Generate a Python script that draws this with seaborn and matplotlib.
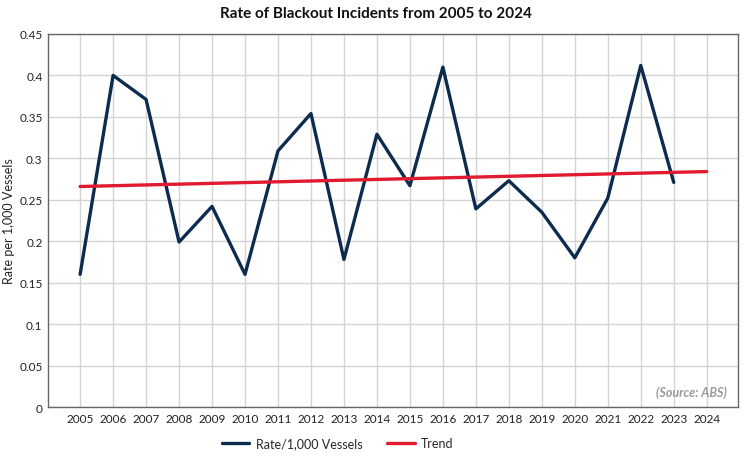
import matplotlib
matplotlib.use("Agg")
import matplotlib.pyplot as plt
import seaborn as sns
import pandas as pd

# values
years = [2005, 2006, 2007, 2008, 2009, 2010, 2011, 2012, 2013, 2014,
         2015, 2016, 2017, 2018, 2019, 2020, 2021, 2022, 2023]
rates = [0.160, 0.400, 0.371, 0.199, 0.242, 0.160, 0.309, 0.354, 0.178, 0.329,
         0.267, 0.410, 0.239, 0.273, 0.235, 0.180, 0.252, 0.412, 0.271]
trend_years = [2005, 2024]
trend_values = [0.266, 0.284]
year_ticks = list(range(2005, 2025))
y_ticks = [0, 0.05, 0.1, 0.15, 0.2, 0.25, 0.3, 0.35, 0.4, 0.45]
y_tick_labels = ["0", "0.05", "0.1", "0.15", "0.2", "0.25", "0.3", "0.35", "0.4", "0.45"]

NAVY = "#0d2a4f"
RED = "#e01b30"

sns.set_theme(style="whitegrid")
plt.rcParams['font.family'] = ['Lato', 'DejaVu Sans']

df = pd.DataFrame({'year': years, 'rate': rates})
trend = pd.DataFrame({'year': trend_years, 'rate': trend_values})

fig = plt.figure(figsize=(7.52, 4.6), dpi=100)
ax = fig.add_axes([0.064, 0.113, 0.917, 0.811])

sns.lineplot(data=df, x='year', y='rate', ax=ax, color=NAVY, linewidth=2.4,
             label='Rate/1,000 Vessels')
sns.lineplot(data=trend, x='year', y='rate', ax=ax, color=RED, linewidth=2.4,
             label='Trend')

ax.set_xlim(2004.03, 2024.94)
ax.set_ylim(0, 0.45)
ax.set_xticks(year_ticks)
ax.set_xticklabels([str(y) for y in year_ticks], fontsize=8.5, color="#222222")
ax.set_yticks(y_ticks)
ax.set_yticklabels(y_tick_labels, fontsize=8.5, color="#222222")
ax.tick_params(axis='both', length=0, pad=4)

ax.grid(True, color="#d4d4d4", linewidth=1.0)
for side in ['left', 'bottom', 'top', 'right']:
    ax.spines[side].set_color("#666666")
    ax.spines[side].set_linewidth(1.0)

ax.set_xlabel("")
ax.set_ylabel("Rate per 1,000 Vessels", fontsize=9, color="#222222")
ax.yaxis.set_label_coords(-0.048, 0.5)

fig.suptitle("Rate of Blackout Incidents from 2005 to 2024", x=0.5, y=0.985,
             fontsize=11, fontweight='bold', color="#111111")

ax.text(0.985, 0.025, "(Source: ABS)", transform=ax.transAxes, ha='right', va='bottom',
        fontsize=9, fontstyle='italic', fontweight='bold', color="#9a9a9a")

ax.legend(loc='upper center', bbox_to_anchor=(0.42, -0.05), ncol=2, frameon=False,
          fontsize=9, handlelength=2.2, handletextpad=0.5, columnspacing=2.0)

fig.savefig("out.png", dpi=100)
